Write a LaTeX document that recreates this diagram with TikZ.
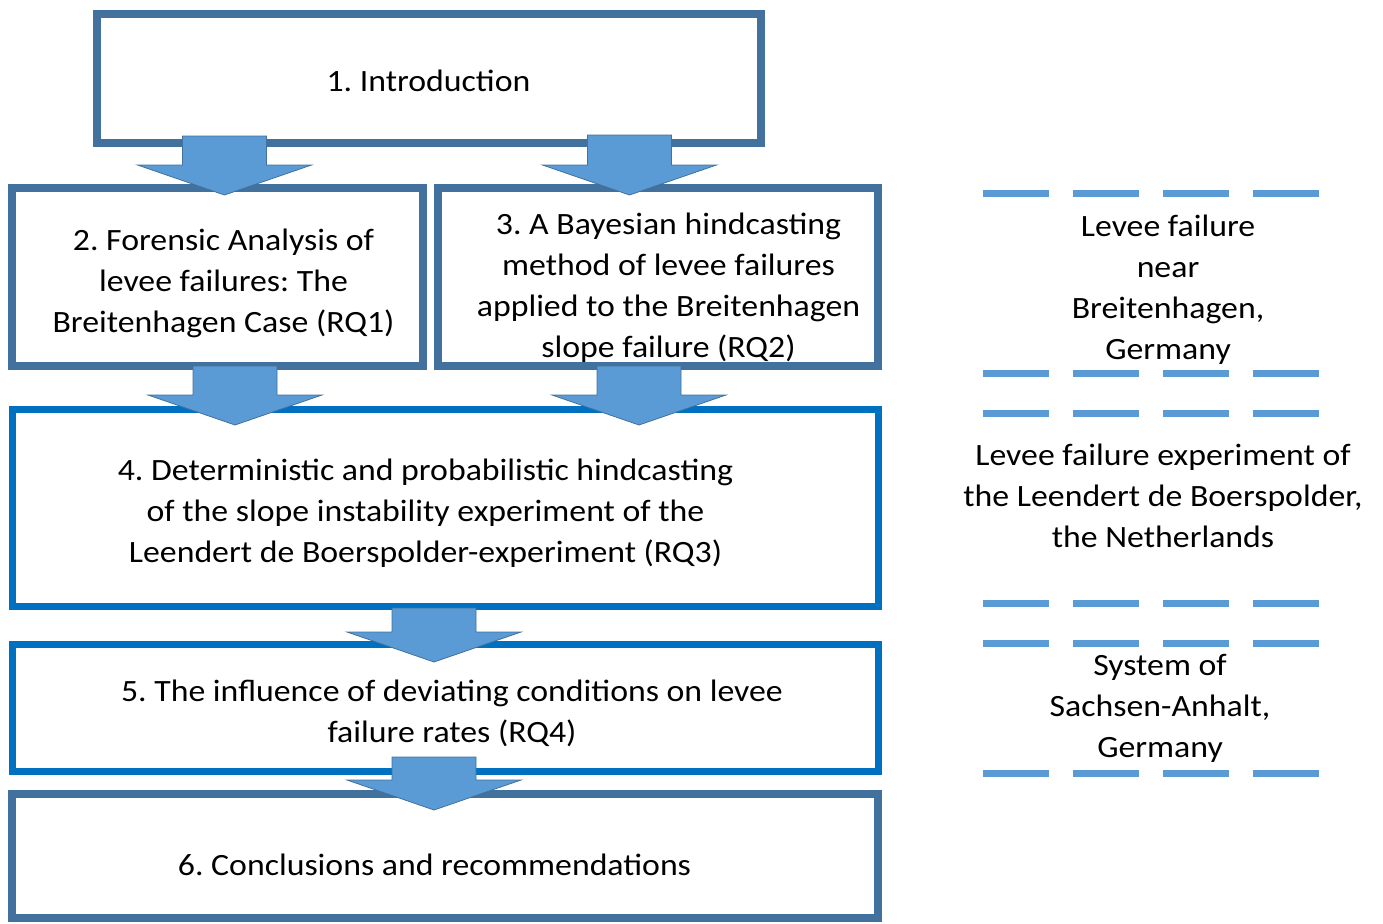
\documentclass[tikz,border=0pt]{standalone}
\usepackage{fontspec}
\setmainfont{Carlito}[FakeStretch=1.09]
\usetikzlibrary{calc}

\definecolor{boxsteel}{HTML}{41719C}
\definecolor{boxblue}{HTML}{0070C0}
\definecolor{arrowfill}{HTML}{5B9BD5}

\tikzset{
  casetext/.style={align=center, inner sep=0pt, font=\fontsize{31}{41}\selectfont},
  chapter/.style={draw=boxsteel, line width=8pt, inner sep=0pt},
  chapterblue/.style={chapter, draw=boxblue, line width=7pt},
  % chapter title set at the box centre, nudged by (dx,dy)
  title/.style n args={3}{label={[casetext, shift={(#1,#2)}]center:{#3}}},
  blockarrow/.style={fill=arrowfill, draw=boxsteel, line width=0.8pt, line join=miter},
  divider/.style={draw=arrowfill, line width=7pt, dash pattern=on 66pt off 24pt},
}

% block arrow: #1 x of axis, #2 source node, #3 shaft start above its south edge,
% #4 target node, #5 tip depth below its north edge
\newcommand\flowarrow[5]{%
  \path[blockarrow] let \p1=(#2.south), \p2=(#4.north) in
    (#1pt-42pt, \y1+#3pt) -- (#1pt+42pt, \y1+#3pt) --
    (#1pt+42pt, \y2-#5pt+30pt) -- (#1pt+87pt, \y2-#5pt+30pt) --
    (#1pt, \y2-#5pt) --
    (#1pt-87pt, \y2-#5pt+30pt) -- (#1pt-42pt, \y2-#5pt+30pt) -- cycle;}

\begin{document}
\frenchspacing
\begin{tikzpicture}[x=1pt, y=-1pt]
  \useasboundingbox (0,0) rectangle (1383,923);

  % chapter boxes
  \node[chapter, minimum width=664pt, minimum height=129pt,
    title={-0.5}{2.5}{1. Introduction}] (intro) at (429,78.5) {};
  \node[chapter, minimum width=411pt, minimum height=178pt,
    title={6}{6}{2. Forensic Analysis of\\levee failures: The\\Breitenhagen Case (RQ1)}] (ch2) at (217.5,277) {};
  \node[chapter, minimum width=440pt, minimum height=178pt,
    title={10.5}{10.5}{3. A Bayesian hindcasting\\method of levee failures\\applied to the Breitenhagen\\slope failure (RQ2)}] (ch3) at (658,277) {};
  \node[chapterblue, minimum width=866pt, minimum height=197pt,
    title={-19.5}{5.5}{4. Deterministic and probabilistic hindcasting\\of the slope instability experiment of the\\Leendert de Boerspolder-experiment (RQ3)}] (ch4) at (445,507.5) {};
  \node[chapterblue, minimum width=866pt, minimum height=127pt,
    title={7}{6}{5. The influence of deviating conditions on levee\\failure rates (RQ4)}] (ch5) at (445,707.5) {};
  \node[chapter, minimum width=866pt, minimum height=124pt,
    title={-10.5}{9}{6. Conclusions and recommendations}] (ch6) at (445,856) {};

  % arrows between chapters
  \flowarrow{224.5}{intro}{11}{ch2}{11}
  \flowarrow{629.5}{intro}{12}{ch3}{11}
  \flowarrow{235}{ch2}{4}{ch4}{19.5}
  \flowarrow{639}{ch3}{4}{ch4}{19.5}
  \flowarrow{434}{ch4}{1.5}{ch5}{21.5}
  \flowarrow{434}{ch5}{17.5}{ch6}{20}

  % case studies
  \draw[divider] (983,193) -- (1320,193);
  \node[casetext] (case1) at (1168,290)
    {Levee failure\\near\\Breitenhagen,\\Germany};
  \draw[divider] (983,373) -- (1320,373);
  \draw[divider] (983,413) -- (1320,413);
  \node[casetext] (case2) at (1163,496)
    {Levee failure experiment of\\the Leendert de Boerspolder,\\the Netherlands};
  \draw[divider] (983,603) -- (1320,603);
  \draw[divider] (983,643) -- (1320,643);
  \node[casetext] (case3) at (1160,708)
    {System of\\Sachsen-Anhalt,\\Germany};
  \draw[divider] (983,773) -- (1320,773);
\end{tikzpicture}
\end{document}
